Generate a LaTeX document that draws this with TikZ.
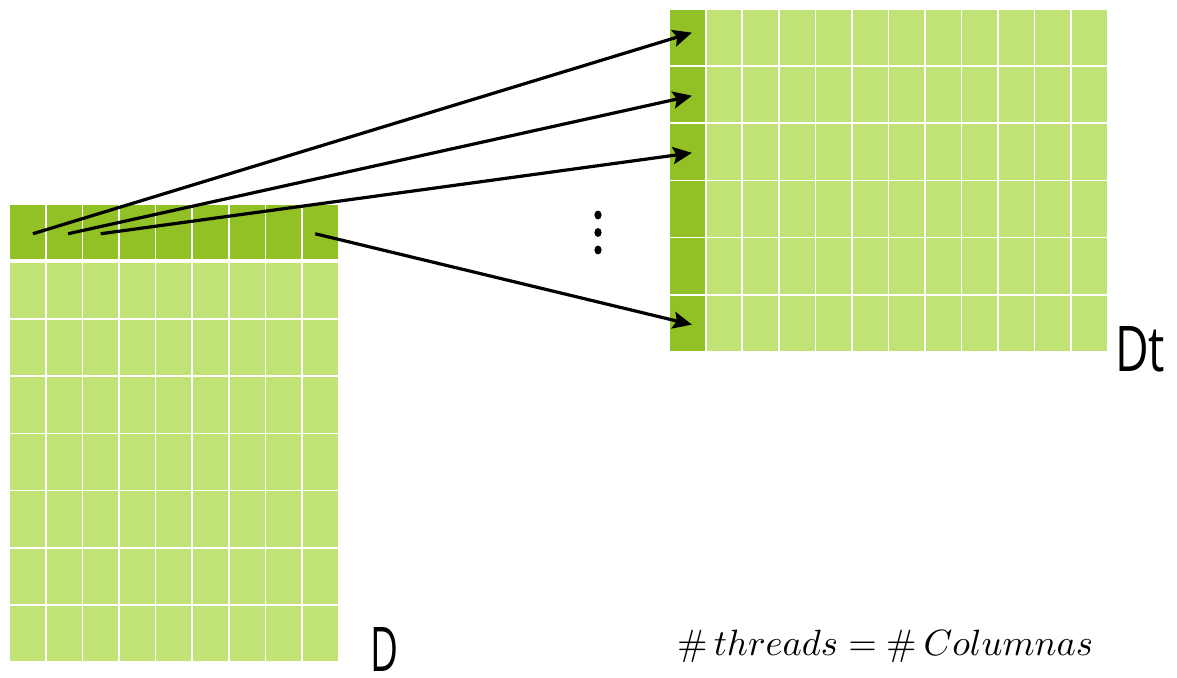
\documentclass[tikz,border=0pt]{standalone}
\usepackage{fontspec}
\newfontfamily\labelfont{Open Sans}
\usetikzlibrary{arrows.meta}
\definecolor{cellLight}{RGB}{193,227,118}
\definecolor{cellDark}{RGB}{146,193,37}

\begin{document}
\begin{tikzpicture}[x=1pt,y=-1pt,
  cell/.style={shape=rectangle, fill=cellLight, draw=none, inner sep=0pt, outer sep=0pt,
    anchor=north west, minimum width=34.9pt, minimum height=55.3pt},
  hot/.style={cell, fill=cellDark},
  conn/.style={line width=3.2pt, -{Stealth[length=19pt,width=17pt,inset=3.5pt]}},
  dot/.style={fill=black}
]
\path[use as bounding box] (0,0) rectangle (1177,677);

% matrix D: highlighted first row and the remaining 7 rows
\foreach \c in {1,...,9} {
  \node[hot, minimum height=53.5pt] (t\c) at ({10+(\c-1)*36.6},205) {};
  \foreach \r in {1,...,7}
    \node[cell] (d\r-\c) at ({10+(\c-1)*36.6},{263+(\r-1)*57.1}) {};
}

% matrix Dt: highlighted first column
\foreach \r in {1,...,6} {
  \node[hot] (h\r) at (670,{10+(\r-1)*57.1}) {};
  \foreach \c in {2,...,12}
    \node[cell] (g\r-\c) at ({670+(\c-1)*36.54},{10+(\r-1)*57.1}) {};
}

% one thread per column: row element -> column element
\draw[conn] ([xshift=5.5pt,yshift=-2pt]t1.center) -- ([xshift=4.5pt,yshift=5pt]h1.center);
\draw[conn] ([xshift=4pt,yshift=-2pt]t2.center) -- ([xshift=4.5pt,yshift=-1pt]h2.center);
\draw[conn] ([xshift=0pt,yshift=-2pt]t3.center) -- ([xshift=4.5pt,yshift=-1pt]h3.center);
\draw[conn] ([xshift=-5pt,yshift=-2pt]t9.center) -- ([xshift=4.5pt,yshift=-1.5pt]h6.center);

% vertical ellipsis
\fill[dot] (598,215) ellipse (3.6pt and 4.4pt);
\fill[dot] (598,232.5) ellipse (3.6pt and 4.4pt);
\fill[dot] (598,250) ellipse (3.6pt and 4.4pt);

% labels
\node[anchor=south west, inner sep=0pt] (lblD) at (370,672)
  {\resizebox{28pt}{44pt}{\labelfont D}};
\node[anchor=south west, inner sep=0pt] (lblDt) at (1115,372)
  {\resizebox{50pt}{45pt}{\labelfont Dt}};
\node[anchor=base west, inner sep=0pt] (eq) at (677,655)
  {\resizebox{416pt}{!}{$\#\,threads = \#\,Columnas$}};
\end{tikzpicture}
\end{document}
